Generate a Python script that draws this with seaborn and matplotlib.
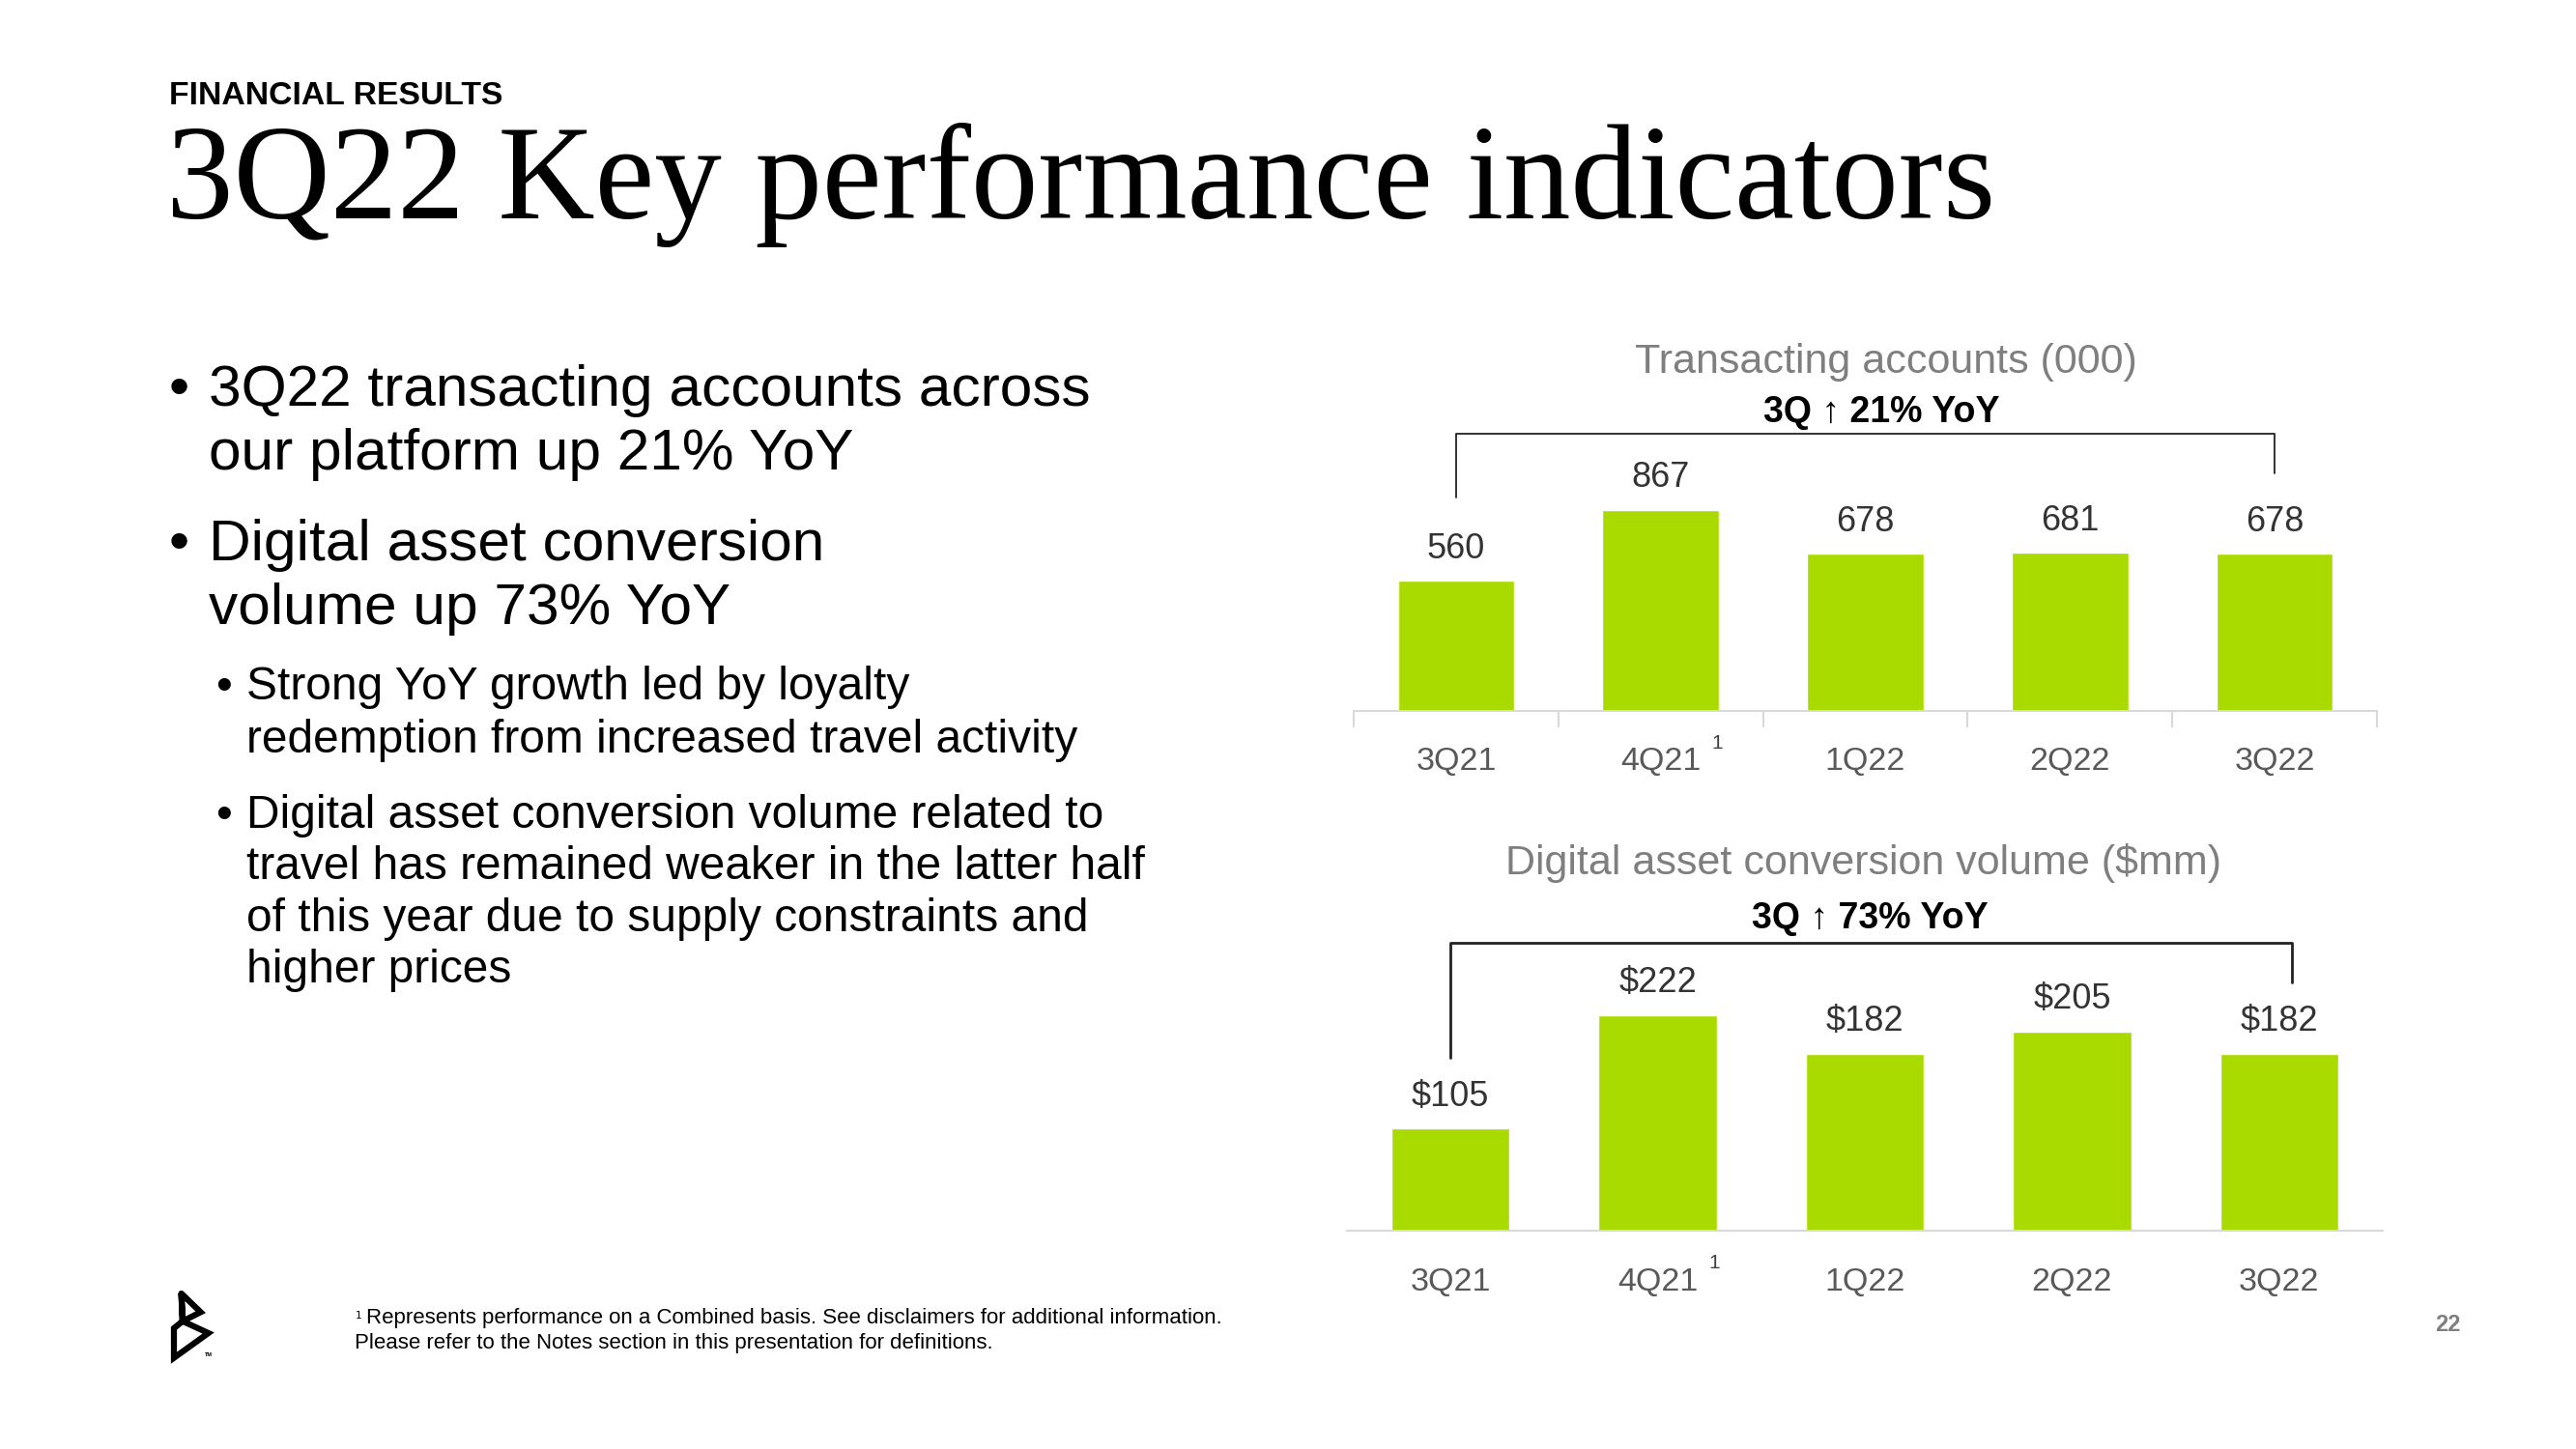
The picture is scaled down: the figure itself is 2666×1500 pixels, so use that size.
import matplotlib
matplotlib.use("Agg")
import matplotlib.pyplot as plt
import matplotlib.transforms as mtransforms
import pandas as pd
import seaborn as sns

# data
quarters = ["3Q21", "4Q21", "1Q22", "2Q22", "3Q22"]
accounts = [560, 867, 678, 681, 678]
account_labels = ["560", "867", "678", "681", "678"]
conversion = [105, 222, 182, 205, 182]
conversion_labels = ["$105", "$222", "$182", "$205", "$182"]

main_bullets = [
    ["3Q22 transacting accounts across", "our platform up 21% YoY"],
    ["Digital asset conversion", "volume up 73% YoY"],
]
sub_bullets = [
    ["Strong YoY growth led by loyalty", "redemption from increased travel activity"],
    ["Digital asset conversion volume related to",
     "travel has remained weaker in the latter half",
     "of this year due to supply constraints and",
     "higher prices"],
]

GREEN = "#A9DB00"
W, H = 2666, 1500

sns.set_style("white")
plt.rcParams["font.family"] = ["Liberation Sans", "DejaVu Sans"]
plt.rcParams["text.color"] = "black"


def fx(x):
    return x / W


def fy(y):
    return 1 - y / H


fig = plt.figure(figsize=(26.66, 15), dpi=100)

# header
fig.text(fx(175), fy(100), "FINANCIAL RESULTS", fontsize=24.3, fontweight="bold",
         va="center", ha="left")
fig.text(fx(172), fy(226), "3Q22 Key performance indicators", fontsize=100,
         family=["Liberation Serif", "DejaVu Serif"], va="baseline", ha="left")

# left bullets
main_base = [[420, 486], [580, 646]]
for lines, bases in zip(main_bullets, main_base):
    fig.text(fx(175), fy(bases[0]), "•", fontsize=43.5, va="baseline")
    for line, b in zip(lines, bases):
        fig.text(fx(216), fy(b), line, fontsize=43.5, va="baseline")

sub_base = [[724, 779], [857, 910, 964, 1017]]
for lines, bases in zip(sub_bullets, sub_base):
    fig.text(fx(223), fy(bases[0]), "•", fontsize=34.5, va="baseline")
    for line, b in zip(lines, bases):
        fig.text(fx(255), fy(b), line, fontsize=34.5, va="baseline")


def draw_chart(ax, values, labels, ymax, bracket, tick_seps):
    df = pd.DataFrame({"quarter": quarters, "value": values})
    sns.barplot(data=df, x="quarter", y="value", color=GREEN, saturation=1,
                width=0.57, errorbar=None, ax=ax)
    ax.bar_label(ax.containers[0], labels=labels, padding=11, fontsize=26,
                 color="#333333")
    ax.set_xlim(-0.5, 4.5)
    ax.set_ylim(0, ymax)
    ax.set_yticks([])
    ax.set_xlabel("")
    ax.set_ylabel("")
    for s in ["left", "top", "right"]:
        ax.spines[s].set_visible(False)
    ax.spines["bottom"].set_color("#D9D9D9")
    ax.spines["bottom"].set_linewidth(1.5)
    ax.tick_params(axis="x", which="major", length=0, pad=27, labelsize=24.5,
                   labelcolor="#595959")
    if tick_seps:
        ax.set_xticks([i - 0.5 for i in range(6)], minor=True)
        ax.tick_params(axis="x", which="minor", bottom=True, length=12,
                       width=1.5, color="#D9D9D9")
    trans = mtransforms.blended_transform_factory(ax.transData, ax.transAxes)
    xl, xr, yl, yr, lw = bracket
    ax.plot([xl, xl, xr, xr], [yl, 1, 1, yr], transform=trans, clip_on=False,
            color="#222222", lw=lw)
    ax.annotate("1", xy=(1, 0), xycoords=trans, xytext=(42, -24),
                textcoords="offset points", fontsize=15, color="#404040",
                ha="center", va="center")
    ax.patch.set_alpha(0)


ax1 = fig.add_axes([fx(1401), fy(736), (2460 - 1401) / W, 287 / H])
draw_chart(ax1, accounts, account_labels, 1194, (0, 4, 0.77, 0.857, 1.3), True)

ax2 = fig.add_axes([fx(1394), fy(1274), (2466 - 1394) / W, 298 / H])
draw_chart(ax2, conversion, conversion_labels, 296, (0, 4.06, 0.60, 0.862, 2.0), False)

# chart headings
fig.text(fx(1952), fy(386), "Transacting accounts (000)", fontsize=31,
         color="#7F7F7F", ha="center", va="baseline")
fig.text(fx(1947), fy(437), "3Q ↑ 21% YoY", fontsize=27, fontweight="bold",
         ha="center", va="baseline")
fig.text(fx(1928), fy(905), "Digital asset conversion volume ($mm)", fontsize=31,
         color="#7F7F7F", ha="center", va="baseline")
fig.text(fx(1935), fy(961), "3Q ↑ 73% YoY", fontsize=27, fontweight="bold",
         ha="center", va="baseline")

# footnote and page number
fig.text(fx(367), fy(1370), "$^1$", fontsize=11, va="baseline")
fig.text(fx(379), fy(1370),
         "Represents performance on a Combined basis. See disclaimers for additional information.",
         fontsize=16, va="baseline")
fig.text(fx(367), fy(1396), "Please refer to the Notes section in this presentation for definitions.",
         fontsize=16, va="baseline")
fig.text(fx(2533), fy(1372), "22", fontsize=17, fontweight="bold", color="#7F7F7F",
         ha="center", va="center")

# logo mark
pts = [(68, 42), (128, 100), (72, 128), (68, 42), (72, 128),
       (152, 165), (45, 242), (45, 150), (72, 128)]
lx = [fx(165 + p[0] / 3) for p in pts]
ly = [fy(1325 + p[1] / 3) for p in pts]
fig.add_artist(plt.Line2D(lx, ly, color="black", lw=4.5, solid_joinstyle="miter"))
fig.text(fx(212), fy(1402), "TM", fontsize=4, fontweight="bold", va="center")

fig.savefig("out.png", dpi=100, facecolor="white")
